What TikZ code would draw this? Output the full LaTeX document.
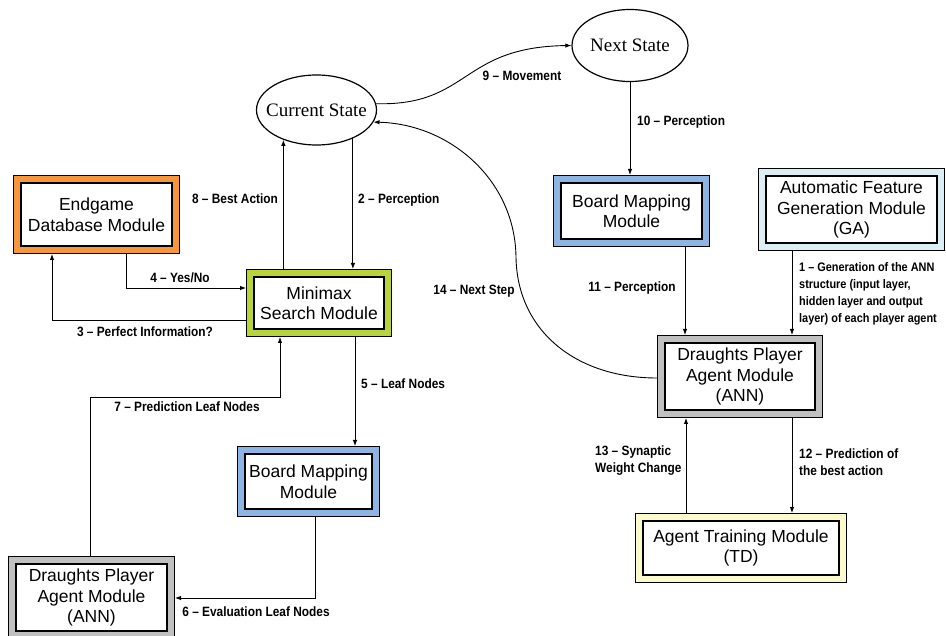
\documentclass[tikz,border=0pt]{standalone}
\usepackage{fontspec}
\setmainfont{Liberation Sans}
\newfontfamily\lblfont[FakeStretch=0.88]{Liberation Sans}
\newfontfamily\ellfont{Liberation Serif}
\usetikzlibrary{shapes.geometric,arrows.meta}
\definecolor{cOrange}{RGB}{247,150,60}
\definecolor{cGreen}{RGB}{184,212,58}
\definecolor{cBlue}{RGB}{141,180,226}
\definecolor{cCyan}{RGB}{218,238,243}
\definecolor{cCream}{RGB}{250,250,205}
\definecolor{cGray}{RGB}{192,192,192}
\tikzset{
  modbox/.style={draw=black, line width=1.3pt, double distance=6pt, fill=white,
    rectangle, align=center, inner sep=0pt, outer sep=4.3pt,
    font=\fontsize{17.5}{20.5}\selectfont},
  statenode/.style={draw=black, line width=1.2pt, ellipse, inner xsep=-14pt, inner ysep=-10pt,
    font=\ellfont\fontsize{19}{20}\selectfont},
  arr/.style={draw=black, line width=0.9pt, -{Latex[length=6pt,width=4.5pt]}},
  lbl/.style={inner sep=0pt, font=\lblfont\bfseries\fontsize{13.5}{17}\selectfont}
}
\newcommand{\dsh}{\textendash{} }
\begin{document}
\begin{tikzpicture}[x=1pt,y=-1pt]
\useasboundingbox[fill=white] (0,0) rectangle (946,636);

% states
\node[statenode, minimum width=120pt, minimum height=70pt] (cur) at (316.5,110) {Current State};
\node[statenode, minimum width=116pt, minimum height=72pt] (ns) at (630,45.5) {Next State};

% modules
\node[modbox, double=cOrange, minimum width=158.4pt, minimum height=70.4pt] (eg) at (96.5,214.5) {Endgame\\Database Module};
\node[modbox, double=cGreen, minimum width=137.4pt, minimum height=59.4pt] (mm) at (319,303) {Minimax\\Search Module};
\node[modbox, double=cBlue, minimum width=148.4pt, minimum height=63.4pt] (bmT) at (631.5,211) {Board Mapping\\Module};
\node[modbox, double=cCyan, minimum width=178.4pt, minimum height=74.4pt] (af) at (851.5,209.5) {Automatic Feature\\Generation Module\\(GA)};
\node[modbox, double=cGray, minimum width=157.4pt, minimum height=74.4pt] (drR) at (740,376.5) {Draughts Player\\Agent Module\\(ANN)};
\node[modbox, double=cCream, minimum width=203.4pt, minimum height=61.4pt] (at) at (741,548) {Agent Training Module\\(TD)};
\node[modbox, double=cBlue, minimum width=134.4pt, minimum height=62.4pt] (bmL) at (308.5,481.5) {Board Mapping\\Module};
\node[modbox, double=cGray, minimum width=158.4pt, minimum height=74.4pt] (drL) at (91.5,597.5) {Draughts Player\\Agent Module\\(ANN)};

% connectors
\draw[arr] (792,0 |- af.south) -- (792,0 |- drR.north);
\draw[arr] (cur.-38) -- (cur.-38 |- mm.north);
\draw[arr] (cur.-138 |- mm.north) -- (cur.-138);
\draw[arr] (126,0 |- eg.south) |- (mm.west |- 0,288);
\draw[arr] (mm.west |- 0,320) -| (52,0 |- eg.south);
\draw[arr] (90,0 |- drL.north) -- (90,397) -- (280,397) -- (280,0 |- mm.south);
\draw[arr] (355,0 |- mm.south) -- (355,0 |- bmL.north);
\draw[arr] (315,0 |- bmL.south) |- (drL.east |- 0,598);
\draw[arr] (cur.6) .. controls (470,106) and (460,47) .. (ns.west);
\draw[arr] (ns.south) -- (ns.south |- bmT.north);
\draw[arr] (685,0 |- bmT.south) -- (685,0 |- drR.north);
\draw[arr] (792,0 |- drR.south) -- (792,0 |- at.north);
\draw[arr] (686,0 |- at.north) -- (686,0 |- drR.south);
\draw[arr] (drR.west |- 0,378) .. controls (575,378) and (517,330) .. (516,257)
  .. controls (515,180) and (450,124) .. (cur.-12);

% labels
\node[lbl] (l8) at (235,199) {8 \dsh Best Action};
\node[lbl, anchor=west] (l2) at (358,200) {2 \dsh Perception};
\node[lbl] (l4) at (180,278) {4 \dsh Yes/No};
\node[lbl] (l3) at (145,332) {3 \dsh Perfect Information?};
\node[lbl] (l7) at (187,407) {7 \dsh Prediction Leaf Nodes};
\node[lbl, anchor=west] (l5) at (361,384) {5 \dsh Leaf Nodes};
\node[lbl] (l6) at (256,612) {6 \dsh Evaluation Leaf Nodes};
\node[lbl] (l9) at (522,76) {9 \dsh Movement};
\node[lbl, anchor=west] (l10) at (637,122) {10 \dsh Perception};
\node[lbl] (l11) at (632,288) {11 \dsh Perception};
\node[lbl] (l14) at (474,291) {14 \dsh Next Step};
\node[lbl, anchor=west, align=left, font=\lblfont\bfseries\fontsize{12.4}{17}\selectfont] (l1) at (799,293.5) {1 \dsh Generation of the ANN\\structure (input layer,\\hidden layer and output\\layer) of each player agent};
\node[lbl, anchor=west, align=left] (l13) at (595,461) {13 \dsh Synaptic\\Weight Change};
\node[lbl, anchor=west, align=left] (l12) at (799,462) {12 \dsh Prediction of\\the best action};
\end{tikzpicture}
\end{document}
